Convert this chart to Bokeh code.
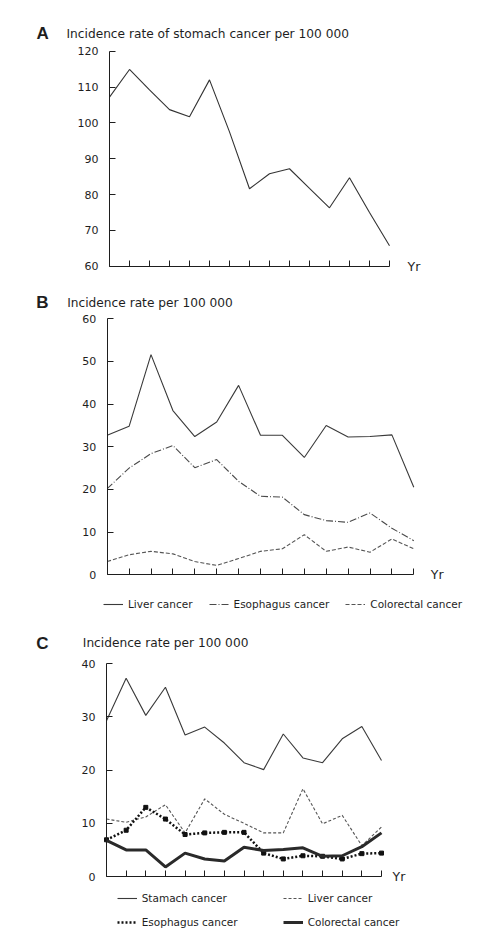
from bokeh.plotting import figure
from bokeh.models import Range1d, FixedTicker, Legend, LegendItem, LinearAxis, Label
from bokeh.embed import file_html
from bokeh.resources import INLINE

# ---------------- data ----------------
years = list(range(15))  # unlabeled yearly points along the x axis

a_yticks = [60, 70, 80, 90, 100, 110, 120]
stomach_a = [107.2, 114.9, 109.2, 103.7, 101.7, 112.0, 97.5, 81.6, 85.8, 87.2, 81.7, 76.3, 84.7, 75.0, 65.7]

b_yticks = [0, 10, 20, 30, 40, 50, 60]
liver_b = [32.7, 34.8, 51.6, 38.5, 32.4, 35.8, 44.4, 32.7, 32.7, 27.5, 35.0, 32.3, 32.4, 32.8, 20.5]
esophagus_b = [20.2, 25.0, 28.4, 30.3, 25.1, 27.0, 21.9, 18.4, 18.2, 14.1, 12.7, 12.3, 14.5, 10.9, 8.0]
colorectal_b = [3.1, 4.7, 5.5, 4.9, 3.1, 2.2, 3.8, 5.5, 6.1, 9.4, 5.5, 6.5, 5.3, 8.4, 6.1]

c_yticks = [0, 10, 20, 30, 40]
stomach_c = [29.3, 37.3, 30.3, 35.6, 26.6, 28.1, 25.1, 21.4, 20.1, 26.8, 22.3, 21.4, 25.9, 28.2, 21.8]
liver_c = [10.8, 10.2, 11.2, 13.5, 8.2, 14.6, 11.7, 10.0, 8.2, 8.2, 16.5, 9.9, 11.5, 5.8, 9.3]
esophagus_c = [6.9, 8.7, 13.0, 10.8, 7.9, 8.2, 8.3, 8.3, 4.4, 3.3, 3.9, 3.8, 3.3, 4.3, 4.4]
colorectal_c = [6.8, 5.0, 5.0, 1.8, 4.4, 3.3, 2.9, 5.5, 4.9, 5.1, 5.4, 3.8, 3.9, 5.6, 8.2]

panel_letters = ["A", "B", "C"]
panel_titles = ["Incidence rate of stomach cancer per 100 000",
                "Incidence rate per 100 000",
                "Incidence rate per 100 000"]
x_label = "Yr"
legend_b = ["Liver cancer", "Esophagus cancer", "Colorectal cancer"]
legend_c = ["Stamach cancer", "Liver cancer", "Esophagus cancer", "Colorectal cancer"]

FONT = "DejaVu Sans"
INK = "#1e1e1e"
W, H = 484, 935

# one canvas; every panel gets its own pair of scales (layout in canvas pixels, top-down)
p = figure(width=W, height=H, frame_width=W, frame_height=H, min_border=0,
           x_range=Range1d(0, W), y_range=Range1d(0, H),
           x_axis_type=None, y_axis_type=None,
           output_backend="svg", toolbar_location=None, tools="")
p.outline_line_color = None
p.xgrid.visible = False
p.ygrid.visible = False


def panel(name, left, right, top, bottom, ymin, ymax, yticks, yr_offset):
    sx = (right - left) / (years[-1] - years[0])
    sy = (bottom - top) / (ymax - ymin)
    p.extra_x_ranges[name] = Range1d(years[0] - left / sx, years[0] + (W - left) / sx)
    p.extra_y_ranges[name] = Range1d(ymin - (H - bottom) / sy, ymax + top / sy)
    xa = LinearAxis(x_range_name=name, y_range_name=name, fixed_location=ymin,
                    bounds=(years[0], years[-1]), ticker=FixedTicker(ticks=years),
                    major_label_overrides={i: "" for i in years})
    ya = LinearAxis(x_range_name=name, y_range_name=name, fixed_location=years[0],
                    bounds=(ymin, ymax), ticker=FixedTicker(ticks=yticks),
                    major_label_standoff=11)
    for ax in (xa, ya):
        ax.axis_line_color = INK
        ax.axis_line_width = 1
        ax.major_tick_line_color = INK
        ax.major_tick_in = 6
        ax.major_tick_out = 0
        ax.minor_tick_line_color = None
        ax.major_label_text_font = FONT
        ax.major_label_text_font_size = "11px"
        ax.major_label_text_color = INK
    p.add_layout(xa, "below")
    p.add_layout(ya, "left")
    p.add_layout(Label(x=years[-1], y=ymin, x_range_name=name, y_range_name=name,
                       x_offset=yr_offset, text=x_label, text_font=FONT,
                       text_font_size="12.5px", text_color=INK, text_baseline="middle"))


def heading(letter, title, letter_x, title_x, y_from_top):
    p.add_layout(Label(x=letter_x, y=H - y_from_top, x_units="screen", y_units="screen",
                       text=letter, text_font="Liberation Sans", text_font_style="bold",
                       text_font_size="17px", text_color=INK, text_baseline="middle"))
    p.add_layout(Label(x=title_x, y=H - y_from_top, x_units="screen", y_units="screen",
                       text=title, text_font=FONT, text_font_size="12.2px", text_color=INK,
                       text_baseline="middle"))


def make_legend(items, loc, orientation="vertical", spacing=4, label_width=20, nrows="auto"):
    return Legend(items=items, location=loc, orientation=orientation, spacing=spacing,
                  padding=0, margin=0, border_line_color=None, background_fill_alpha=0,
                  label_text_font=FONT, label_text_font_size="10.5px", label_text_color=INK,
                  glyph_width=20, glyph_height=20, label_height=20, label_width=label_width,
                  label_standoff=5, nrows=nrows)


# ---------------- panel A ----------------
panel("a", 109, 389, 50.7, 265.7, 60, 120, a_yticks, 18)
heading(panel_letters[0], panel_titles[0], 36, 66, 33)
p.line(years, stomach_a, x_range_name="a", y_range_name="a", line_color="#333333", line_width=1.1)

# ---------------- panel B ----------------
panel("b", 106.7, 413.3, 318.3, 574.3, 0, 60, b_yticks, 17)
heading(panel_letters[1], panel_titles[1], 35.7, 66.7, 302.3)
rb1 = p.line(years, liver_b, x_range_name="b", y_range_name="b",
             line_color="#3a3a3a", line_width=1.1)
rb2 = p.line(years, esophagus_b, x_range_name="b", y_range_name="b",
             line_color="#4a4a4a", line_width=1.1, line_dash="7 2 1 2")
rb3 = p.line(years, colorectal_b, x_range_name="b", y_range_name="b",
             line_color="#555555", line_width=1.1, line_dash="4 2")
p.add_layout(make_legend([LegendItem(label=legend_b[0], renderers=[rb1]),
                          LegendItem(label=legend_b[1], renderers=[rb2]),
                          LegendItem(label=legend_b[2], renderers=[rb3])],
                         (103, 321), orientation="horizontal", spacing=16))

# ---------------- panel C ----------------
panel("c", 106, 381, 663.3, 876, 0, 40, c_yticks, 11)
heading(panel_letters[2], panel_titles[2], 35.7, 82.3, 642.7)
rc1 = p.line(years, stomach_c, x_range_name="c", y_range_name="c",
             line_color="#3a3a3a", line_width=1.1)
rc2 = p.line(years, liver_c, x_range_name="c", y_range_name="c",
             line_color="#555555", line_width=1.1, line_dash="3 2")
rc3 = p.line(years, esophagus_c, x_range_name="c", y_range_name="c",
             line_color="#111111", line_width=2.5, line_dash="2 2")
p.scatter(years, esophagus_c, x_range_name="c", y_range_name="c", marker="square", size=4,
          fill_color="#111111", line_color="#111111")
rc4 = p.line(years, colorectal_c, x_range_name="c", y_range_name="c",
             line_color="#2a2a2a", line_width=3)
p.add_layout(make_legend([LegendItem(label=legend_c[0], renderers=[rc1]),
                          LegendItem(label=legend_c[2], renderers=[rc3]),
                          LegendItem(label=legend_c[1], renderers=[rc2]),
                          LegendItem(label=legend_c[3], renderers=[rc4])],
                         (116.7, 3), orientation="vertical", spacing=4, label_width=137,
                         nrows=2))

open("out.html", "w").write(file_html(p, INLINE))
